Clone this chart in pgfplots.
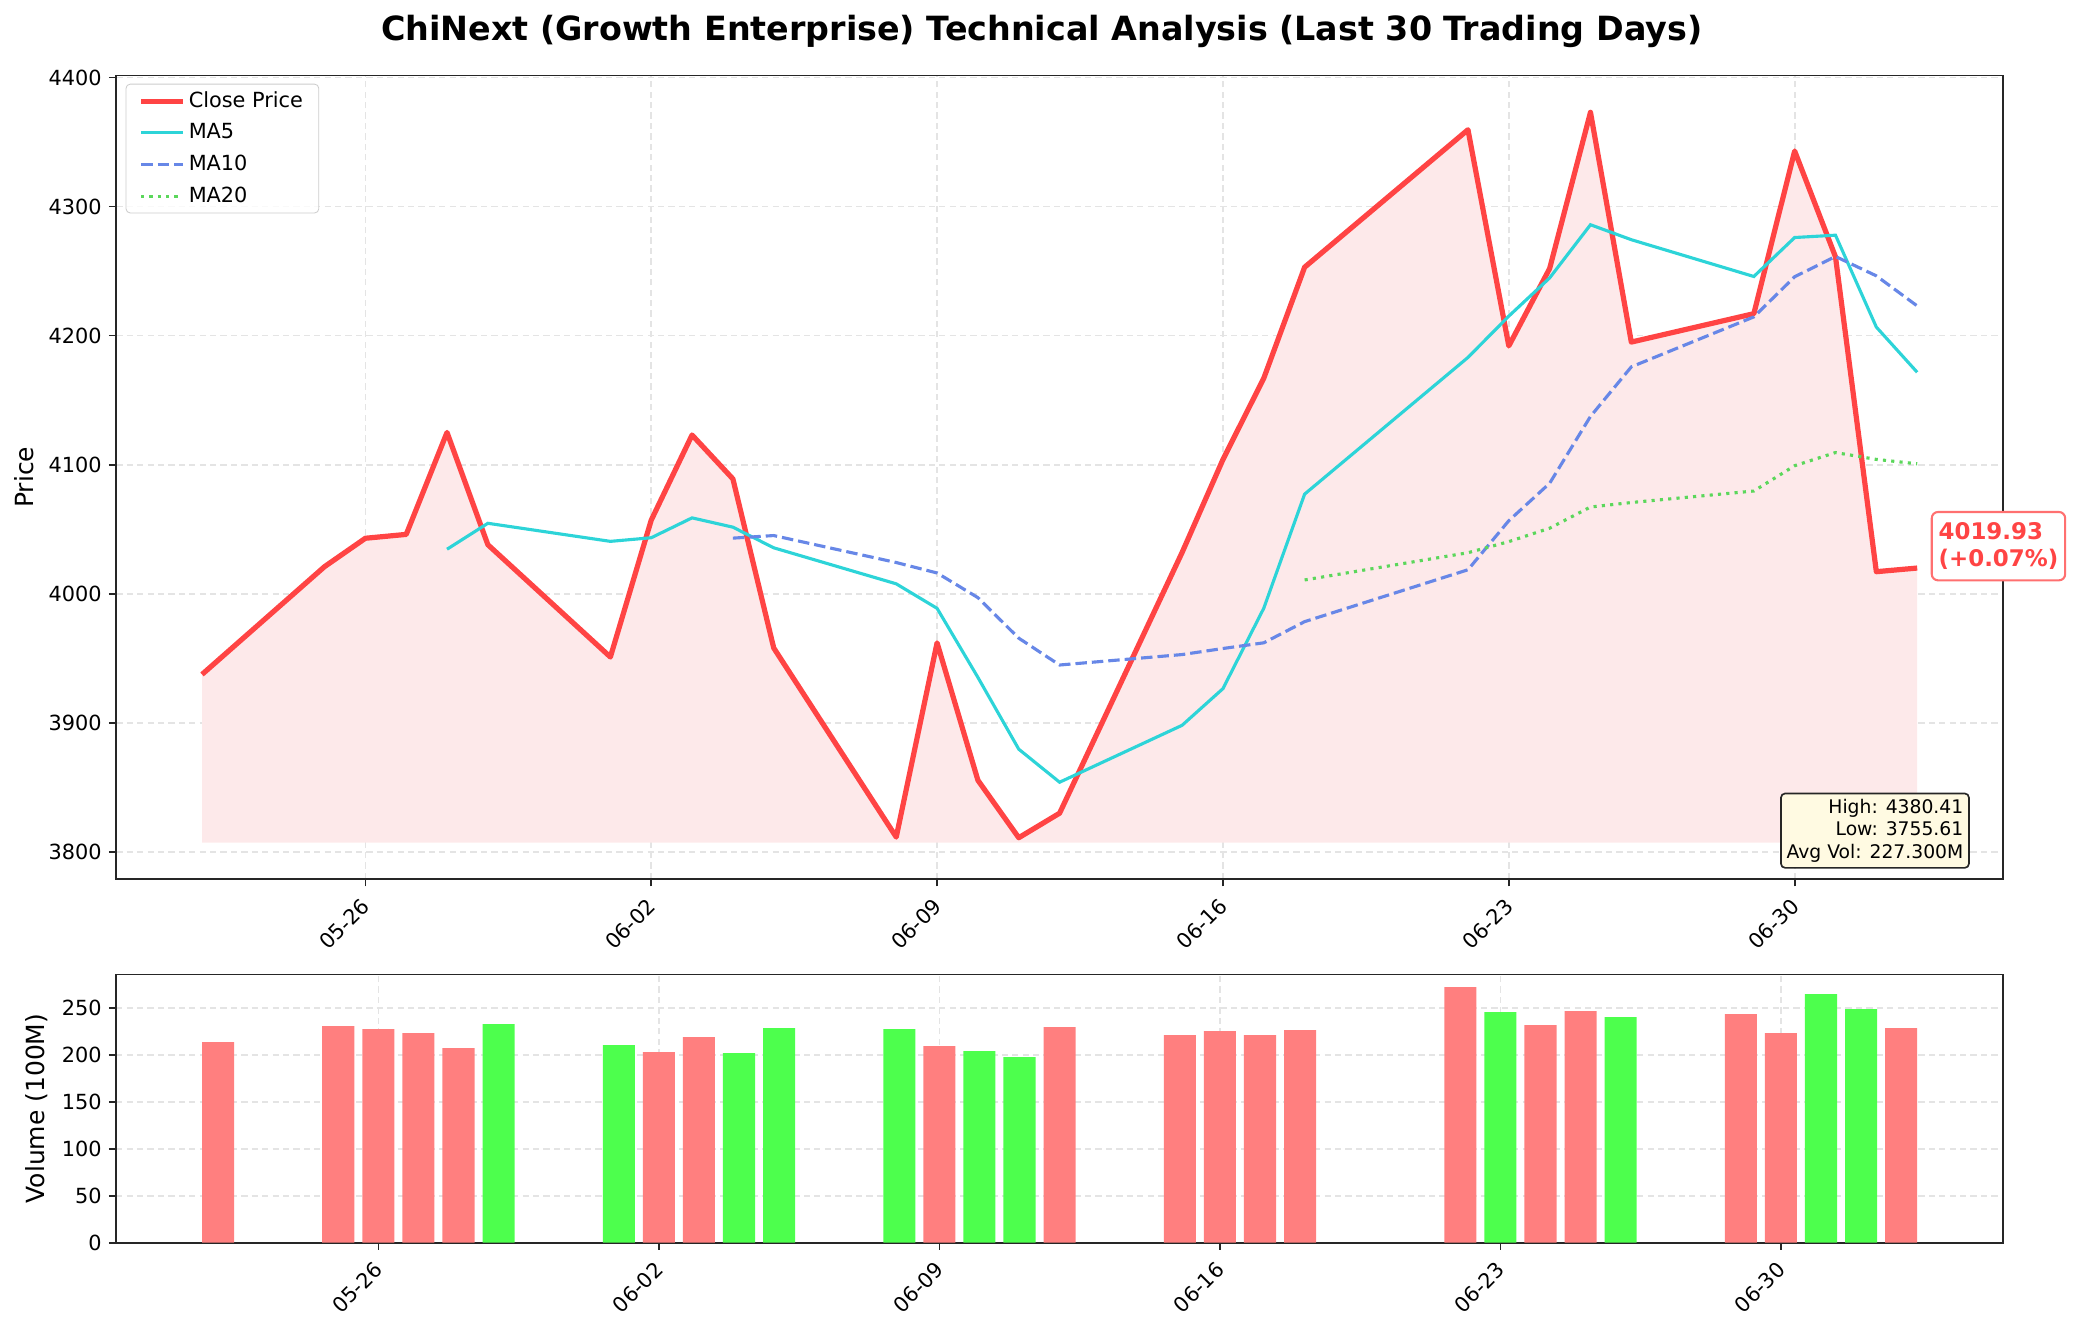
\documentclass[border=0pt]{standalone}
\usepackage{fontspec}
\setmainfont{DejaVu Sans}
\usepackage{pgfplots}
\pgfplotsset{compat=1.18}

\definecolor{closeRed}{HTML}{FF4444}
\definecolor{pinkFill}{HTML}{FDE9EA}
\definecolor{maFive}{RGB}{45,212,216}
\definecolor{maTen}{HTML}{6787E7}
\definecolor{maTwenty}{HTML}{5BD75B}
\definecolor{volRed}{HTML}{FF7F7F}
\definecolor{volGreen}{HTML}{4DFF4D}
\definecolor{gridGray}{RGB}{228,228,228}
\definecolor{spine}{RGB}{38,38,38}
\definecolor{infoFill}{RGB}{255,250,226}
\definecolor{annEdge}{HTML}{FF7070}

\pgfplotsset{
  commonstyle/.style={
    scale only axis,
    width=905.6pt,
    axis line style={spine, line width=0.8pt},
    tick style={spine, line width=0.8pt},
    major tick length=3.5pt,
    tick align=outside,
    xtick pos=left, ytick pos=left,
    grid=major,
    major grid style={gridGray, line width=0.8pt, dash pattern=on 3pt off 2pt},
    tick label style={font=\fontsize{10}{12}\selectfont},
    label style={font=\fontsize{12}{14}\selectfont},
    /pgf/number format/assume math mode=true,
    /pgf/number format/1000 sep={},
    xtick={4,11,18,25,32,39},
    xticklabels={05-26,06-02,06-09,06-16,06-23,06-30},
    xticklabel style={xshift=-2.5pt, yshift=-4.8pt, rotate=45, anchor=north east, inner sep=0pt},
  }
}

\begin{document}
\begin{tikzpicture}
\useasboundingbox (0,0) rectangle (995.04pt,638.4pt);

\node[font=\bfseries\fontsize{16}{19}\selectfont] at (500pt,623.2pt)
  {ChiNext (Growth Enterprise) Technical Analysis (Last 30 Trading Days)};

% ---------------- price panel ----------------
\begin{axis}[
  commonstyle,
  at={(55.8pt,216.4pt)}, anchor=south west,
  height=385.8pt,
  xmin=-2.1, xmax=44.1,
  ymin=3778.9, ymax=4401.6,
  ytick={3800,3900,4000,4100,4200,4300,4400},
  ylabel={Price},
  legend cell align=left,
  legend style={at={(0,1)}, anchor=north west, xshift=4.5pt, yshift=-4pt,
    draw=black!20, fill=white, fill opacity=0.8, text opacity=1,
    rounded corners=2pt, font=\fontsize{10}{12}\selectfont,
    row sep=3.1pt, inner xsep=6pt, inner ysep=2pt,
    nodes={inner sep=1.6pt}},
  legend image code/.code={\draw[#1] (0pt,0pt) -- (20pt,0pt);},
]
% fill under close price (down to min close x 0.999)
\addplot[draw=none, fill=pinkFill, forget plot] coordinates {
(0,3937.5)(3,4021)(4,4043)(5,4046)(6,4125)(7,4038)(10,3951)(11,4057)(12,4123)(13,4089)
(14,3958)(17,3811.5)(18,3962)(19,3855.5)(20,3811)(21,3830)(24,4032)(25,4104)(26,4167)(27,4253)
(31,4359.5)(32,4192)(33,4252)(34,4373)(35,4195)(38,4217)(39,4343)(40,4261)(41,4017.1)(42,4019.93)
(42,3807.2)(0,3807.2)} -- cycle;

\addplot[closeRed, line width=2.5pt, line join=round] coordinates {
(0,3937.5)(3,4021)(4,4043)(5,4046)(6,4125)(7,4038)(10,3951)(11,4057)(12,4123)(13,4089)
(14,3958)(17,3811.5)(18,3962)(19,3855.5)(20,3811)(21,3830)(24,4032)(25,4104)(26,4167)(27,4253)
(31,4359.5)(32,4192)(33,4252)(34,4373)(35,4195)(38,4217)(39,4343)(40,4261)(41,4017.1)(42,4019.93)};
\addlegendentry{Close Price}

\addplot[maFive, line width=1.5pt] coordinates {
(6,4034.5)(7,4054.6)(10,4040.6)(11,4043.4)(12,4058.8)(13,4051.6)(14,4035.6)(17,4007.7)(18,3988.7)
(19,3935.2)(20,3879.6)(21,3854.0)(24,3898.1)(25,3926.5)(26,3988.8)(27,4077.2)(31,4183.1)(32,4215.1)
(33,4244.7)(34,4285.9)(35,4274.3)(38,4245.8)(39,4276.0)(40,4277.8)(41,4206.6)(42,4171.6)};
\addlegendentry{MA5}

\addplot[maTen, line width=1.5pt, dash pattern=on 5.5pt off 2.4pt] coordinates {
(13,4043.1)(14,4045.1)(17,4024.2)(18,4016.1)(19,3997.0)(20,3965.6)(21,3944.8)(24,3952.9)(25,3957.6)
(26,3962.0)(27,3978.4)(31,4018.6)(32,4056.6)(33,4085.6)(34,4137.4)(35,4175.8)(38,4214.5)(39,4245.6)
(40,4261.3)(41,4246.3)(42,4223.0)};
\addlegendentry{MA10}

\addplot[maTwenty, line width=1.5pt, dash pattern=on 1.5pt off 2.5pt] coordinates {
(27,4010.7)(31,4031.8)(32,4040.4)(33,4050.8)(34,4067.2)(35,4070.7)(38,4079.6)(39,4099.2)
(40,4109.4)(41,4104.1)(42,4100.7)};
\addlegendentry{MA20}

\coordinate (lastpt) at (axis cs:42,4019.93);
\coordinate (infopt) at (rel axis cs:0.98,0.02);
\end{axis}

\node[anchor=west, draw=annEdge, line width=1pt, fill=white, rounded corners=3pt,
  text=closeRed, font=\bfseries\fontsize{11}{13.2}\selectfont, align=left,
  inner xsep=3.3pt, inner ysep=5pt]
  at ([xshift=6.5pt, yshift=10.5pt]lastpt) {4019.93\\(+0.07\%)};

\node[anchor=south east, draw=spine, line width=0.8pt, fill=infoFill, rounded corners=2pt,
  font=\fontsize{9}{10.8}\selectfont, align=right, inner sep=2.7pt]
  at ([xshift=2.2pt, yshift=-2.7pt]infopt) {High: 4380.41\\Low: 3755.61\\Avg Vol: 227.300M};

% ---------------- volume panel ----------------
\begin{axis}[
  commonstyle,
  at={(55.8pt,41.9pt)}, anchor=south west,
  height=128.8pt,
  xmin=-2.54, xmax=44.54,
  ymin=0, ymax=285.6,
  ytick={0,50,100,150,200,250},
  ylabel={Volume (100M)},
]
\addplot[ybar, bar width=0.8, bar shift=0pt, fill=volRed, draw=none] coordinates {
(0,213.5)(3,230.5)(4,227.3)(5,223)(6,207.1)(11,202.8)(12,218.8)(18,209.2)(21,229.4)
(24,220.9)(25,225.2)(26,220.9)(27,226.2)(31,272)(33,231.6)(34,246.5)(38,243.3)(39,223)(42,228.4)};
\addplot[ybar, bar width=0.8, bar shift=0pt, fill=volGreen, draw=none] coordinates {
(7,232.6)(10,210.3)(13,201.8)(14,228.4)(17,227.3)(19,203.9)(20,197.5)(32,245.4)(35,240.1)
(40,264.5)(41,248.6)};
\end{axis}
\end{tikzpicture}
\end{document}
